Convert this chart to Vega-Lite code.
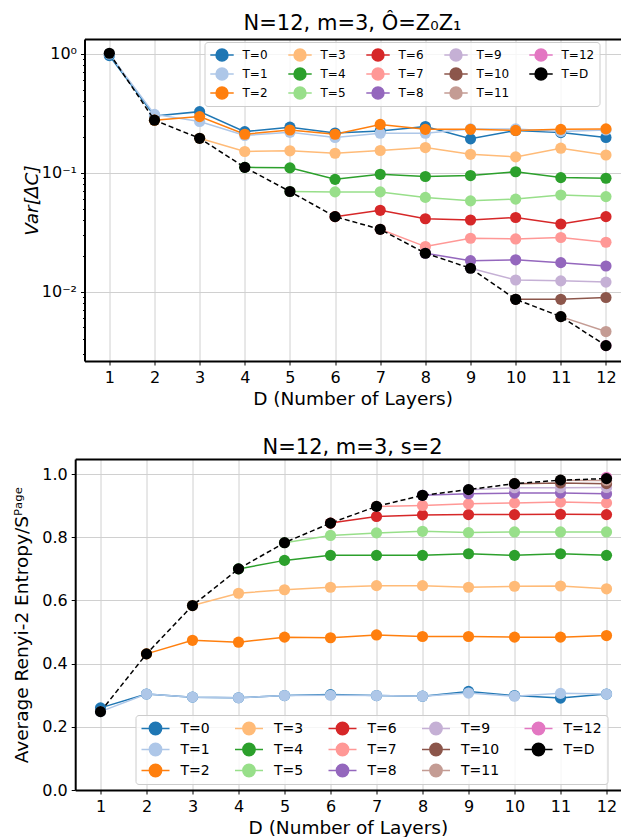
{
  "$schema": "https://vega.github.io/schema/vega-lite/v6.json",
  "padding": {"left": 12.5, "top": 13, "right": 0, "bottom": 0},
  "spacing": 28,
  "resolve": {"scale": {"color": "independent"}, "legend": {"color": "independent"}},
  "config": {
    "font": "DejaVu Sans",
    "view": {"stroke": null},
    "axis": {"domainColor": "black", "domainWidth": 2, "tickColor": "black", "tickWidth": 1, "tickSize": 4, "labelColor": "black", "labelFont": "DejaVu Sans", "labelFontSize": 16, "labelPadding": 4, "titleFont": "DejaVu Sans", "titleFontSize": 18.5, "titleFontWeight": "normal", "titleColor": "black", "gridColor": "#d0d0d0", "gridWidth": 1},
    "title": {"font": "DejaVu Sans", "fontSize": 21, "fontWeight": "normal", "color": "black", "anchor": "middle"},
    "legend": {"labelFont": "DejaVu Sans", "labelColor": "black"}
  },
  "datasets": {
    "top": [
      {"T": "T=0", "D": 1, "v": 0.97}, {"T": "T=0", "D": 2, "v": 0.30}, {"T": "T=0", "D": 3, "v": 0.327}, {"T": "T=0", "D": 4, "v": 0.222}, {"T": "T=0", "D": 5, "v": 0.242}, {"T": "T=0", "D": 6, "v": 0.216}, {"T": "T=0", "D": 7, "v": 0.225}, {"T": "T=0", "D": 8, "v": 0.245}, {"T": "T=0", "D": 9, "v": 0.193}, {"T": "T=0", "D": 10, "v": 0.227}, {"T": "T=0", "D": 11, "v": 0.218}, {"T": "T=0", "D": 12, "v": 0.198},
      {"T": "T=1", "D": 1, "v": 1.0}, {"T": "T=1", "D": 2, "v": 0.31}, {"T": "T=1", "D": 3, "v": 0.27}, {"T": "T=1", "D": 4, "v": 0.206}, {"T": "T=1", "D": 5, "v": 0.219}, {"T": "T=1", "D": 6, "v": 0.198}, {"T": "T=1", "D": 7, "v": 0.215}, {"T": "T=1", "D": 8, "v": 0.215}, {"T": "T=1", "D": 9, "v": 0.234}, {"T": "T=1", "D": 10, "v": 0.234}, {"T": "T=1", "D": 11, "v": 0.222}, {"T": "T=1", "D": 12, "v": 0.229},
      {"T": "T=2", "D": 2, "v": 0.277}, {"T": "T=2", "D": 3, "v": 0.297}, {"T": "T=2", "D": 4, "v": 0.211}, {"T": "T=2", "D": 5, "v": 0.229}, {"T": "T=2", "D": 6, "v": 0.211}, {"T": "T=2", "D": 7, "v": 0.255}, {"T": "T=2", "D": 8, "v": 0.232}, {"T": "T=2", "D": 9, "v": 0.232}, {"T": "T=2", "D": 10, "v": 0.227}, {"T": "T=2", "D": 11, "v": 0.232}, {"T": "T=2", "D": 12, "v": 0.234},
      {"T": "T=3", "D": 3, "v": 0.195}, {"T": "T=3", "D": 4, "v": 0.151}, {"T": "T=3", "D": 5, "v": 0.153}, {"T": "T=3", "D": 6, "v": 0.146}, {"T": "T=3", "D": 7, "v": 0.154}, {"T": "T=3", "D": 8, "v": 0.163}, {"T": "T=3", "D": 9, "v": 0.143}, {"T": "T=3", "D": 10, "v": 0.136}, {"T": "T=3", "D": 11, "v": 0.161}, {"T": "T=3", "D": 12, "v": 0.141},
      {"T": "T=4", "D": 4, "v": 0.111}, {"T": "T=4", "D": 5, "v": 0.110}, {"T": "T=4", "D": 6, "v": 0.088}, {"T": "T=4", "D": 7, "v": 0.097}, {"T": "T=4", "D": 8, "v": 0.093}, {"T": "T=4", "D": 9, "v": 0.0947}, {"T": "T=4", "D": 10, "v": 0.102}, {"T": "T=4", "D": 11, "v": 0.091}, {"T": "T=4", "D": 12, "v": 0.0899},
      {"T": "T=5", "D": 5, "v": 0.0695}, {"T": "T=5", "D": 6, "v": 0.069}, {"T": "T=5", "D": 7, "v": 0.069}, {"T": "T=5", "D": 8, "v": 0.062}, {"T": "T=5", "D": 9, "v": 0.058}, {"T": "T=5", "D": 10, "v": 0.060}, {"T": "T=5", "D": 11, "v": 0.065}, {"T": "T=5", "D": 12, "v": 0.063},
      {"T": "T=6", "D": 6, "v": 0.0427}, {"T": "T=6", "D": 7, "v": 0.0483}, {"T": "T=6", "D": 8, "v": 0.041}, {"T": "T=6", "D": 9, "v": 0.040}, {"T": "T=6", "D": 10, "v": 0.042}, {"T": "T=6", "D": 11, "v": 0.037}, {"T": "T=6", "D": 12, "v": 0.0427},
      {"T": "T=7", "D": 7, "v": 0.0334}, {"T": "T=7", "D": 8, "v": 0.0239}, {"T": "T=7", "D": 9, "v": 0.0281}, {"T": "T=7", "D": 10, "v": 0.0277}, {"T": "T=7", "D": 11, "v": 0.0285}, {"T": "T=7", "D": 12, "v": 0.026},
      {"T": "T=8", "D": 8, "v": 0.021}, {"T": "T=8", "D": 9, "v": 0.0182}, {"T": "T=8", "D": 10, "v": 0.0185}, {"T": "T=8", "D": 11, "v": 0.0175}, {"T": "T=8", "D": 12, "v": 0.0164},
      {"T": "T=9", "D": 9, "v": 0.0157}, {"T": "T=9", "D": 10, "v": 0.0125}, {"T": "T=9", "D": 11, "v": 0.0123}, {"T": "T=9", "D": 12, "v": 0.012},
      {"T": "T=10", "D": 10, "v": 0.0086}, {"T": "T=10", "D": 11, "v": 0.0086}, {"T": "T=10", "D": 12, "v": 0.0089},
      {"T": "T=11", "D": 11, "v": 0.00615}, {"T": "T=11", "D": 12, "v": 0.0046},
      {"T": "T=12", "D": 12, "v": 0.0035},
      {"T": "T=D", "D": 1, "v": 1.014}, {"T": "T=D", "D": 2, "v": 0.277}, {"T": "T=D", "D": 3, "v": 0.195}, {"T": "T=D", "D": 4, "v": 0.111}, {"T": "T=D", "D": 5, "v": 0.0695}, {"T": "T=D", "D": 6, "v": 0.0427}, {"T": "T=D", "D": 7, "v": 0.0334}, {"T": "T=D", "D": 8, "v": 0.021}, {"T": "T=D", "D": 9, "v": 0.0157}, {"T": "T=D", "D": 10, "v": 0.0086}, {"T": "T=D", "D": 11, "v": 0.00615}, {"T": "T=D", "D": 12, "v": 0.0035}
    ],
    "bot": [
      {"T": "T=0", "D": 1, "v": 0.260}, {"T": "T=0", "D": 2, "v": 0.304}, {"T": "T=0", "D": 3, "v": 0.294}, {"T": "T=0", "D": 4, "v": 0.292}, {"T": "T=0", "D": 5, "v": 0.299}, {"T": "T=0", "D": 6, "v": 0.302}, {"T": "T=0", "D": 7, "v": 0.299}, {"T": "T=0", "D": 8, "v": 0.297}, {"T": "T=0", "D": 9, "v": 0.312}, {"T": "T=0", "D": 10, "v": 0.299}, {"T": "T=0", "D": 11, "v": 0.291}, {"T": "T=0", "D": 12, "v": 0.304},
      {"T": "T=1", "D": 1, "v": 0.248}, {"T": "T=1", "D": 2, "v": 0.304}, {"T": "T=1", "D": 3, "v": 0.294}, {"T": "T=1", "D": 4, "v": 0.292}, {"T": "T=1", "D": 5, "v": 0.299}, {"T": "T=1", "D": 6, "v": 0.300}, {"T": "T=1", "D": 7, "v": 0.299}, {"T": "T=1", "D": 8, "v": 0.297}, {"T": "T=1", "D": 9, "v": 0.307}, {"T": "T=1", "D": 10, "v": 0.297}, {"T": "T=1", "D": 11, "v": 0.306}, {"T": "T=1", "D": 12, "v": 0.304},
      {"T": "T=2", "D": 2, "v": 0.431}, {"T": "T=2", "D": 3, "v": 0.474}, {"T": "T=2", "D": 4, "v": 0.468}, {"T": "T=2", "D": 5, "v": 0.484}, {"T": "T=2", "D": 6, "v": 0.482}, {"T": "T=2", "D": 7, "v": 0.491}, {"T": "T=2", "D": 8, "v": 0.486}, {"T": "T=2", "D": 9, "v": 0.486}, {"T": "T=2", "D": 10, "v": 0.484}, {"T": "T=2", "D": 11, "v": 0.484}, {"T": "T=2", "D": 12, "v": 0.489},
      {"T": "T=3", "D": 3, "v": 0.584}, {"T": "T=3", "D": 4, "v": 0.623}, {"T": "T=3", "D": 5, "v": 0.634}, {"T": "T=3", "D": 6, "v": 0.642}, {"T": "T=3", "D": 7, "v": 0.647}, {"T": "T=3", "D": 8, "v": 0.647}, {"T": "T=3", "D": 9, "v": 0.642}, {"T": "T=3", "D": 10, "v": 0.645}, {"T": "T=3", "D": 11, "v": 0.646}, {"T": "T=3", "D": 12, "v": 0.637},
      {"T": "T=4", "D": 4, "v": 0.700}, {"T": "T=4", "D": 5, "v": 0.727}, {"T": "T=4", "D": 6, "v": 0.743}, {"T": "T=4", "D": 7, "v": 0.743}, {"T": "T=4", "D": 8, "v": 0.743}, {"T": "T=4", "D": 9, "v": 0.748}, {"T": "T=4", "D": 10, "v": 0.743}, {"T": "T=4", "D": 11, "v": 0.748}, {"T": "T=4", "D": 12, "v": 0.743},
      {"T": "T=5", "D": 5, "v": 0.783}, {"T": "T=5", "D": 6, "v": 0.806}, {"T": "T=5", "D": 7, "v": 0.814}, {"T": "T=5", "D": 8, "v": 0.819}, {"T": "T=5", "D": 9, "v": 0.815}, {"T": "T=5", "D": 10, "v": 0.817}, {"T": "T=5", "D": 11, "v": 0.817}, {"T": "T=5", "D": 12, "v": 0.817},
      {"T": "T=6", "D": 6, "v": 0.845}, {"T": "T=6", "D": 7, "v": 0.866}, {"T": "T=6", "D": 8, "v": 0.871}, {"T": "T=6", "D": 9, "v": 0.872}, {"T": "T=6", "D": 10, "v": 0.872}, {"T": "T=6", "D": 11, "v": 0.873}, {"T": "T=6", "D": 12, "v": 0.872},
      {"T": "T=7", "D": 7, "v": 0.898}, {"T": "T=7", "D": 8, "v": 0.901}, {"T": "T=7", "D": 9, "v": 0.906}, {"T": "T=7", "D": 10, "v": 0.909}, {"T": "T=7", "D": 11, "v": 0.912}, {"T": "T=7", "D": 12, "v": 0.909},
      {"T": "T=8", "D": 8, "v": 0.933}, {"T": "T=8", "D": 9, "v": 0.938}, {"T": "T=8", "D": 10, "v": 0.940}, {"T": "T=8", "D": 11, "v": 0.940}, {"T": "T=8", "D": 12, "v": 0.938},
      {"T": "T=9", "D": 9, "v": 0.951}, {"T": "T=9", "D": 10, "v": 0.957}, {"T": "T=9", "D": 11, "v": 0.957}, {"T": "T=9", "D": 12, "v": 0.958},
      {"T": "T=10", "D": 10, "v": 0.970}, {"T": "T=10", "D": 11, "v": 0.972}, {"T": "T=10", "D": 12, "v": 0.970},
      {"T": "T=11", "D": 11, "v": 0.981}, {"T": "T=11", "D": 12, "v": 0.980},
      {"T": "T=12", "D": 12, "v": 0.990},
      {"T": "T=D", "D": 1, "v": 0.248}, {"T": "T=D", "D": 2, "v": 0.431}, {"T": "T=D", "D": 3, "v": 0.584}, {"T": "T=D", "D": 4, "v": 0.700}, {"T": "T=D", "D": 5, "v": 0.783}, {"T": "T=D", "D": 6, "v": 0.845}, {"T": "T=D", "D": 7, "v": 0.898}, {"T": "T=D", "D": 8, "v": 0.933}, {"T": "T=D", "D": 9, "v": 0.951}, {"T": "T=D", "D": 10, "v": 0.970}, {"T": "T=D", "D": 11, "v": 0.981}, {"T": "T=D", "D": 12, "v": 0.986}
    ]
  },
  "vconcat": [
    {
      "width": 536,
      "height": 322,
      "title": {"text": "N=12, m=3, Ô=Z₀Z₁", "offset": 5},
      "data": {"name": "top"},
      "resolve": {"axis": {"x": "independent", "y": "independent"}},
      "layer": [
        {
          "transform": [{"filter": "datum.T !== 'T=D'"}],
          "mark": {"type": "line", "strokeWidth": 1.5},
          "encoding": {
            "x": {"field": "D", "type": "quantitative", "scale": {"domain": [0.45, 12.322], "nice": false, "zero": false},
                  "axis": {"values": [1, 2, 3, 4, 5, 6, 7, 8, 9, 10, 11, 12], "format": "d", "grid": true, "title": "D (Number of Layers)", "titlePadding": 4, "orient": "bottom"}},
            "y": {"field": "v", "type": "quantitative", "scale": {"type": "log", "domain": [0.0026, 1.337], "nice": false},
                  "axis": {"values": [1, 0.1, 0.01], "labelExpr": "datum.value === 1 ? '10⁰' : datum.value === 0.1 ? '10⁻¹' : '10⁻²'", "labelOverlap": false, "grid": true, "title": "Var[ΔC]", "titleFontStyle": "italic", "titlePadding": 0, "orient": "left"}},
            "color": {"field": "T", "type": "nominal",
              "scale": {"domain": ["T=0", "T=1", "T=2", "T=3", "T=4", "T=5", "T=6", "T=7", "T=8", "T=9", "T=10", "T=11", "T=12", "T=D"],
                        "range": ["#1f77b4", "#aec7e8", "#ff7f0e", "#ffbb78", "#2ca02c", "#98df8a", "#d62728", "#ff9896", "#9467bd", "#c5b0d5", "#8c564b", "#c49c94", "#e377c2", "#000000"]},
              "legend": {
                "title": null, "orient": "none", "legendX": 120, "legendY": 3, "columns": 5, "gridAlign": "each",
                "symbolType": "M-1,0L1,0M0.51,0A0.51,0.51,0,1,1,-0.51,0A0.51,0.51,0,1,1,0.51,0Z",
                "symbolSize": 548, "symbolStrokeWidth": 1.5, "labelFontSize": 12, "labelOffset": 8,
                "clipHeight": 16,
                "columnPadding": 19, "rowPadding": 3, "padding": 5,
                "strokeColor": "#cccccc", "fillColor": "rgba(255,255,255,0.8)", "cornerRadius": 3,
                "encoding": {"symbols": {"update": {
                  "fill": {"condition": [
                    {"test": "datum.value === 'T=0'", "value": "#1f77b4"}, {"test": "datum.value === 'T=1'", "value": "#aec7e8"}, {"test": "datum.value === 'T=2'", "value": "#ff7f0e"}, {"test": "datum.value === 'T=3'", "value": "#ffbb78"}, {"test": "datum.value === 'T=4'", "value": "#2ca02c"}, {"test": "datum.value === 'T=5'", "value": "#98df8a"}, {"test": "datum.value === 'T=6'", "value": "#d62728"}, {"test": "datum.value === 'T=7'", "value": "#ff9896"}, {"test": "datum.value === 'T=8'", "value": "#9467bd"}, {"test": "datum.value === 'T=9'", "value": "#c5b0d5"}, {"test": "datum.value === 'T=10'", "value": "#8c564b"}, {"test": "datum.value === 'T=11'", "value": "#c49c94"}, {"test": "datum.value === 'T=12'", "value": "#e377c2"}], "value": "#000000"},
                  "stroke": {"condition": [
                    {"test": "datum.value === 'T=0'", "value": "#1f77b4"}, {"test": "datum.value === 'T=1'", "value": "#aec7e8"}, {"test": "datum.value === 'T=2'", "value": "#ff7f0e"}, {"test": "datum.value === 'T=3'", "value": "#ffbb78"}, {"test": "datum.value === 'T=4'", "value": "#2ca02c"}, {"test": "datum.value === 'T=5'", "value": "#98df8a"}, {"test": "datum.value === 'T=6'", "value": "#d62728"}, {"test": "datum.value === 'T=7'", "value": "#ff9896"}, {"test": "datum.value === 'T=8'", "value": "#9467bd"}, {"test": "datum.value === 'T=9'", "value": "#c5b0d5"}, {"test": "datum.value === 'T=10'", "value": "#8c564b"}, {"test": "datum.value === 'T=11'", "value": "#c49c94"}, {"test": "datum.value === 'T=12'", "value": "#e377c2"}], "value": "#000000"},
                  "strokeDash": {"condition": {"test": "datum.value === 'T=D'", "value": [4, 2]}, "value": [1, 0]},
                  "opacity": {"value": 1}
                }}}
              }}
          }
        },
        {
          "transform": [{"filter": "datum.T !== 'T=D'"}],
          "mark": {"type": "point", "filled": true, "size": 125, "opacity": 1},
          "encoding": {
            "x": {"field": "D", "type": "quantitative", "axis": null},
            "y": {"field": "v", "type": "quantitative",
                  "axis": {"values": [0.9, 0.8, 0.7, 0.6, 0.5, 0.4, 0.3, 0.2, 0.09, 0.08, 0.07, 0.06, 0.05, 0.04, 0.03, 0.02, 0.009, 0.008, 0.007, 0.006, 0.005, 0.004, 0.003], "labels": false, "domain": false, "grid": false, "title": null, "tickSize": 2, "orient": "left"}},
            "color": {"field": "T", "type": "nominal", "legend": null}
          }
        },
        {
          "transform": [{"filter": "datum.T === 'T=D'"}],
          "mark": {"type": "line", "strokeWidth": 1.5, "strokeDash": [5, 3]},
          "encoding": {
            "x": {"field": "D", "type": "quantitative", "axis": null},
            "y": {"field": "v", "type": "quantitative", "axis": null},
            "color": {"field": "T", "type": "nominal", "legend": null}
          }
        },
        {
          "transform": [{"filter": "datum.T === 'T=D'"}],
          "mark": {"type": "point", "filled": true, "size": 125, "opacity": 1},
          "encoding": {
            "x": {"field": "D", "type": "quantitative", "axis": {"orient": "top", "labels": false, "ticks": false, "grid": false, "title": null, "domain": true}},
            "y": {"field": "v", "type": "quantitative", "axis": null},
            "color": {"field": "T", "type": "nominal", "legend": null}
          }
        }
      ]
    },
    {
      "width": 536,
      "height": 331,
      "title": {"text": "N=12, m=3, s=2", "offset": 1.5},
      "data": {"name": "bot"},
      "resolve": {"axis": {"x": "independent"}},
      "layer": [
        {
          "transform": [{"filter": "datum.T !== 'T=D'"}],
          "mark": {"type": "line", "strokeWidth": 1.5},
          "encoding": {
            "x": {"field": "D", "type": "quantitative", "scale": {"domain": [0.45, 12.304], "range": [-9.3, 536], "nice": false, "zero": false},
                  "axis": {"values": [1, 2, 3, 4, 5, 6, 7, 8, 9, 10, 11, 12], "format": "d", "grid": true, "title": "D (Number of Layers)", "titlePadding": 4, "orient": "bottom"}},
            "y": {"field": "v", "type": "quantitative", "scale": {"domain": [0, 1.048], "nice": false, "zero": false},
                  "axis": {"values": [0, 0.2, 0.4, 0.6, 0.8, 1.0], "format": ".1f", "grid": true, "offset": 9.3, "title": "Average Renyi-2 Entropy/Sᴾᵃᵍᵉ", "titlePadding": 9.8}},
            "color": {"field": "T", "type": "nominal",
              "scale": {"domain": ["T=0", "T=1", "T=2", "T=3", "T=4", "T=5", "T=6", "T=7", "T=8", "T=9", "T=10", "T=11", "T=12", "T=D"],
                        "range": ["#1f77b4", "#aec7e8", "#ff7f0e", "#ffbb78", "#2ca02c", "#98df8a", "#d62728", "#ff9896", "#9467bd", "#c5b0d5", "#8c564b", "#c49c94", "#e377c2", "#000000"]},
              "legend": {
                "title": null, "orient": "none", "legendX": 51, "legendY": 256, "columns": 5, "gridAlign": "each",
                "symbolType": "M-1,0L1,0M0.44,0A0.44,0.44,0,1,1,-0.44,0A0.44,0.44,0,1,1,0.44,0Z",
                "symbolSize": 784, "symbolStrokeWidth": 1.5, "labelFontSize": 14, "labelOffset": 10,
                "clipHeight": 17,
                "columnPadding": 23.5, "rowPadding": 4, "padding": 5,
                "strokeColor": "#cccccc", "fillColor": "rgba(255,255,255,0.8)", "cornerRadius": 3,
                "encoding": {"symbols": {"update": {
                  "fill": {"condition": [
                    {"test": "datum.value === 'T=0'", "value": "#1f77b4"}, {"test": "datum.value === 'T=1'", "value": "#aec7e8"}, {"test": "datum.value === 'T=2'", "value": "#ff7f0e"}, {"test": "datum.value === 'T=3'", "value": "#ffbb78"}, {"test": "datum.value === 'T=4'", "value": "#2ca02c"}, {"test": "datum.value === 'T=5'", "value": "#98df8a"}, {"test": "datum.value === 'T=6'", "value": "#d62728"}, {"test": "datum.value === 'T=7'", "value": "#ff9896"}, {"test": "datum.value === 'T=8'", "value": "#9467bd"}, {"test": "datum.value === 'T=9'", "value": "#c5b0d5"}, {"test": "datum.value === 'T=10'", "value": "#8c564b"}, {"test": "datum.value === 'T=11'", "value": "#c49c94"}, {"test": "datum.value === 'T=12'", "value": "#e377c2"}], "value": "#000000"},
                  "stroke": {"condition": [
                    {"test": "datum.value === 'T=0'", "value": "#1f77b4"}, {"test": "datum.value === 'T=1'", "value": "#aec7e8"}, {"test": "datum.value === 'T=2'", "value": "#ff7f0e"}, {"test": "datum.value === 'T=3'", "value": "#ffbb78"}, {"test": "datum.value === 'T=4'", "value": "#2ca02c"}, {"test": "datum.value === 'T=5'", "value": "#98df8a"}, {"test": "datum.value === 'T=6'", "value": "#d62728"}, {"test": "datum.value === 'T=7'", "value": "#ff9896"}, {"test": "datum.value === 'T=8'", "value": "#9467bd"}, {"test": "datum.value === 'T=9'", "value": "#c5b0d5"}, {"test": "datum.value === 'T=10'", "value": "#8c564b"}, {"test": "datum.value === 'T=11'", "value": "#c49c94"}, {"test": "datum.value === 'T=12'", "value": "#e377c2"}], "value": "#000000"},
                  "strokeDash": {"condition": {"test": "datum.value === 'T=D'", "value": [4, 2]}, "value": [1, 0]},
                  "opacity": {"value": 1}
                }}}
              }}
          }
        },
        {
          "transform": [{"filter": "datum.T !== 'T=D'"}],
          "mark": {"type": "point", "filled": true, "size": 125, "opacity": 1},
          "encoding": {
            "x": {"field": "D", "type": "quantitative", "axis": null},
            "y": {"field": "v", "type": "quantitative"},
            "color": {"field": "T", "type": "nominal", "legend": null}
          }
        },
        {
          "transform": [{"filter": "datum.T === 'T=D'"}],
          "mark": {"type": "line", "strokeWidth": 1.5, "strokeDash": [5, 3]},
          "encoding": {
            "x": {"field": "D", "type": "quantitative", "axis": null},
            "y": {"field": "v", "type": "quantitative"},
            "color": {"field": "T", "type": "nominal", "legend": null}
          }
        },
        {
          "transform": [{"filter": "datum.T === 'T=D'"}],
          "mark": {"type": "point", "filled": true, "size": 125, "opacity": 1},
          "encoding": {
            "x": {"field": "D", "type": "quantitative", "axis": {"orient": "top", "labels": false, "ticks": false, "grid": false, "title": null, "domain": true}},
            "y": {"field": "v", "type": "quantitative"},
            "color": {"field": "T", "type": "nominal", "legend": null}
          }
        }
      ]
    }
  ]
}
